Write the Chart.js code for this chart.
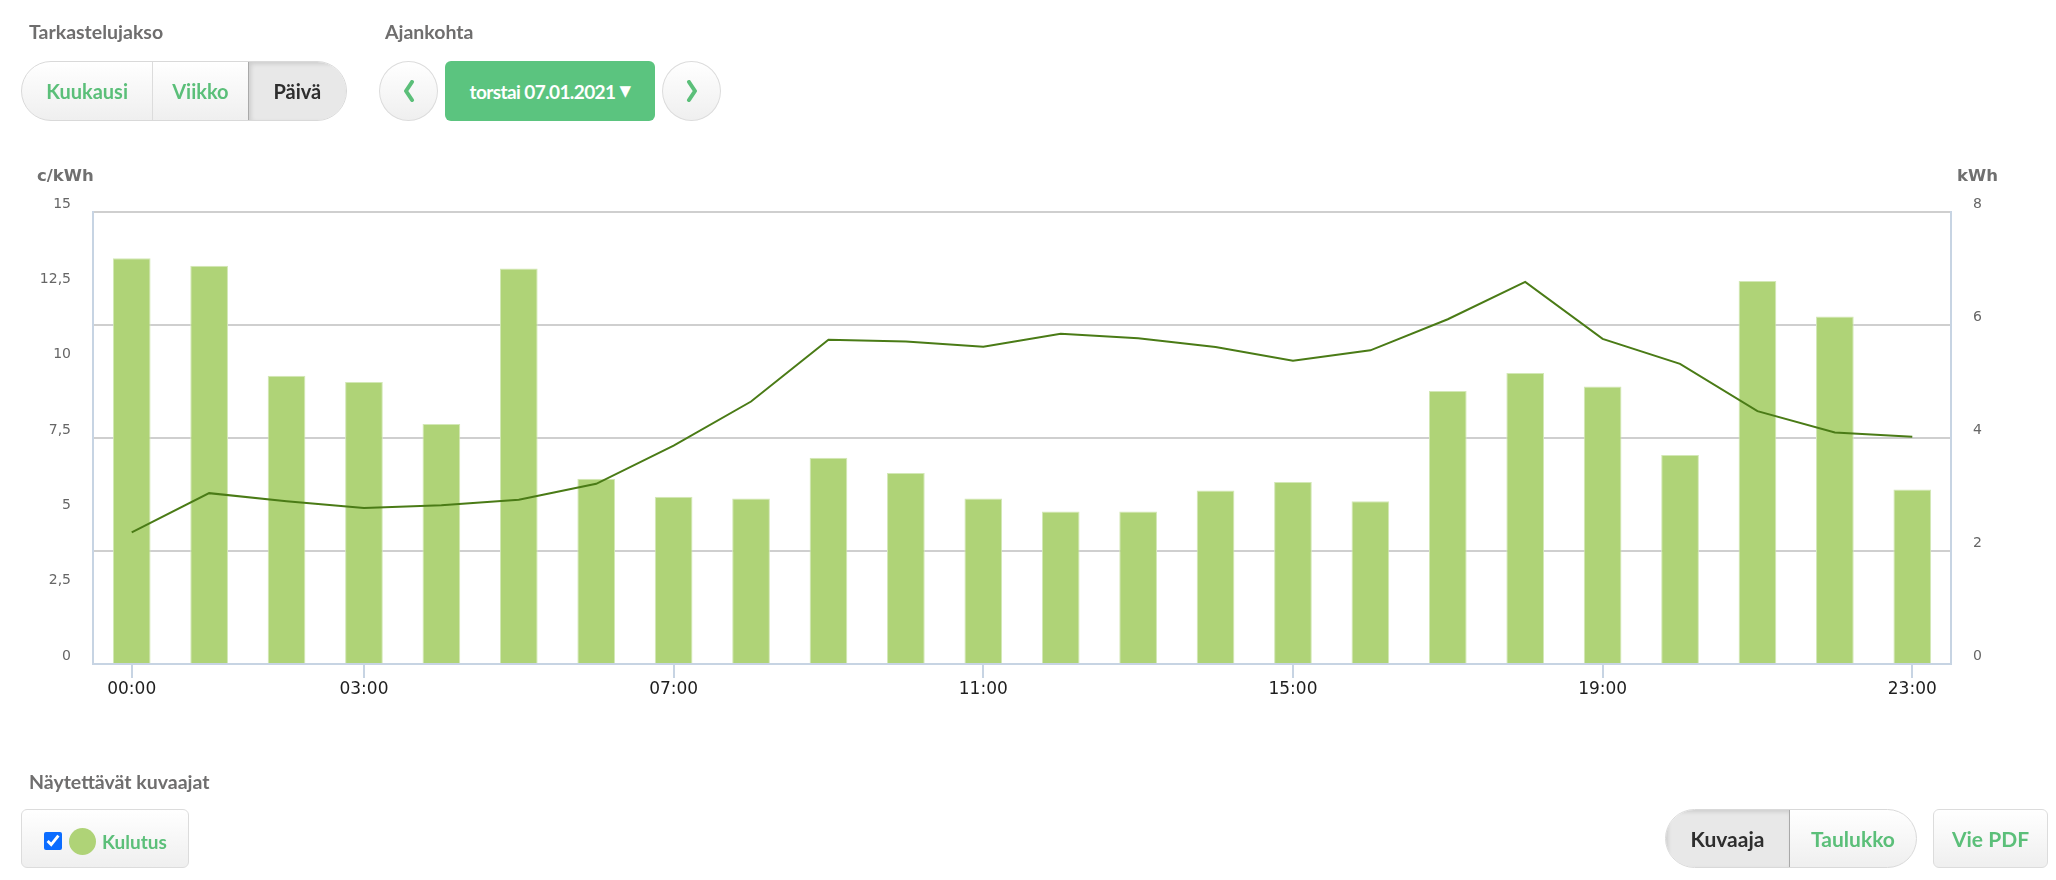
<!DOCTYPE html>
<html>
<head>
<meta charset="utf-8">
<script src="https://cdn.jsdelivr.net/npm/chart.js@4.4.0/dist/chart.umd.min.js"></script>
<style>
  html, body { margin:0; padding:0; background:#fff; }
  body { width:2056px; height:880px; position:relative; overflow:hidden; font-family: Lato, "Open Sans", sans-serif; }
  #c { position:absolute; left:0; top:0; }
  .abs { position:absolute; }
  .h { font-weight:700; font-size:19.5px; color:#6f6e6e; line-height:22px; }
  .grp { display:flex; border:1px solid #d9d9d9; border-radius:30px; overflow:hidden; box-sizing:border-box;
         background:linear-gradient(#ffffff,#efefef); }
  .seg { display:flex; align-items:center; justify-content:center; font-weight:700; font-size:20px; color:#5bbf79; box-sizing:border-box; }
  .seg + .seg { border-left:1px solid #dcdcdc; }
  .seg.sel { background:#e8e8e8; color:#2e2e2e; box-shadow: inset 2px 2px 4px rgba(0,0,0,0.12); border-left:1px solid #a9a9a9; }
  .circ { border:1px solid #dcdcdc; border-radius:50%; box-sizing:border-box; background:linear-gradient(#ffffff,#efefef);
          display:flex; align-items:center; justify-content:center; }
  .box { border:1px solid #dcdcdc; border-radius:6px; box-sizing:border-box; background:linear-gradient(#ffffff,#efefef); }
  .axt { font-family:"DejaVu Sans", Verdana, sans-serif; font-weight:700; font-size:16.5px; color:#707070; line-height:20px; }
  .big { font-size:21px; }
</style>
</head>
<body>
<canvas id="c" width="2056" height="880"></canvas>

<div class="abs h" style="left:29px; top:21px;">Tarkastelujakso</div>
<div class="abs h" style="left:385px; top:21px;">Ajankohta</div>

<div class="abs grp" style="left:21px; top:61px; width:326px; height:60px;">
  <div class="seg" style="width:131px;">Kuukausi</div>
  <div class="seg" style="width:96px;">Viikko</div>
  <div class="seg sel" style="width:99px;">Päivä</div>
</div>

<div class="abs circ" style="left:379px; top:61px; width:59px; height:60px;">
  <svg width="14" height="22" viewBox="0 0 14 22"><polyline points="10,2 4,11 10,20" fill="none" stroke="#5bbf79" stroke-width="4" stroke-linecap="round" stroke-linejoin="round"/></svg>
</div>
<div class="abs" style="left:445px; top:61px; width:210px; height:60px; background:#5bc47f; border-radius:6px; display:flex; align-items:center; justify-content:center; color:#fff; font-weight:700; font-size:19px; letter-spacing:-0.6px;">torstai 07.01.2021&nbsp;<span style="font-family:'DejaVu Sans'; font-size:15px;">▼</span></div>
<div class="abs circ" style="left:662px; top:61px; width:59px; height:60px;">
  <svg width="14" height="22" viewBox="0 0 14 22"><polyline points="4,2 10,11 4,20" fill="none" stroke="#5bbf79" stroke-width="4" stroke-linecap="round" stroke-linejoin="round"/></svg>
</div>

<div class="abs axt" style="left:37px; top:166px;">c/kWh</div>
<div class="abs axt" style="left:1957px; top:166px;">kWh</div>

<div class="abs h" style="left:29px; top:771px;">Näytettävät kuvaajat</div>
<div class="abs box" style="left:21px; top:809px; width:168px; height:59px;"></div>
<input type="checkbox" checked class="abs" style="left:44px; top:832px; width:18px; height:18px; margin:0; accent-color:#0b6cff;">
<div class="abs" style="left:69px; top:828px; width:27px; height:27px; border-radius:50%; background:#afd377;"></div>
<div class="abs" style="left:102px; top:830px; font-weight:700; font-size:19px; color:#5bbf79; line-height:24px;">Kulutus</div>

<div class="abs grp" style="left:1665px; top:809px; width:252px; height:59px;">
  <div class="seg sel big" style="width:125px; border-left:none; box-shadow: inset 2px 2px 4px rgba(0,0,0,0.12); border-right:1px solid #a9a9a9;">Kuvaaja</div>
  <div class="seg big" style="width:127px; border-left:none;">Taulukko</div>
</div>
<div class="abs box seg big" style="left:1933px; top:809px; width:115px; height:59px; display:flex;">Vie PDF</div>

<script>
const hours = ['00:00','01:00','02:00','03:00','04:00','05:00','06:00','07:00','08:00','09:00','10:00','11:00',
               '12:00','13:00','14:00','15:00','16:00','17:00','18:00','19:00','20:00','21:00','22:00','23:00'];
const consumptionKwh = [7.18, 7.05, 5.10, 4.99, 4.25, 7.00, 3.28, 2.96, 2.93, 3.65, 3.38, 2.93,
                        2.70, 2.70, 3.07, 3.22, 2.88, 4.83, 5.15, 4.91, 3.70, 6.78, 6.15, 3.09];
const priceCents = [4.37, 5.67, 5.40, 5.18, 5.27, 5.45, 5.98, 7.25, 8.71, 10.76, 10.70, 10.53,
                    10.96, 10.81, 10.52, 10.06, 10.41, 11.44, 12.68, 10.79, 9.96, 8.39, 7.68, 7.54];
const shownHourLabels = ['00:00','03:00','07:00','11:00','15:00','19:00','23:00'];
const priceTicks = [0, 2.5, 5, 7.5, 10, 12.5, 15];
const kwhTicks = [0, 2, 4, 6, 8];

const W = 2056, H = 880;
const plotLeft = 93, plotRight = 1951, plotTop = 212, plotBottom = 664;
const axisBlue = '#c7d4e3';
const gridGray = '#cfcfcf';

new Chart(document.getElementById('c'), {
  data: {
    labels: hours,
    datasets: [
      { type:'line', label:'Hinta', data: priceCents, yAxisID:'yP', order:0,
        borderColor:'#4a7b16', borderWidth:2, pointRadius:0, tension:0, fill:false },
      { type:'bar', label:'Kulutus', data: consumptionKwh, yAxisID:'yK', order:1,
        backgroundColor:'#afd377', borderColor:'#d3e8b6', borderWidth:1,
        barPercentage:0.487, categoryPercentage:1.0 }
    ]
  },
  options: {
    responsive:false, animation:false, devicePixelRatio:1,
    layout: { padding: { top: plotTop, left:0, right:0, bottom:0 } },
    plugins: { legend:{display:false}, tooltip:{enabled:false} },
    scales: {
      x: {
        type:'category', offset:true,
        afterBuildTicks: s => { s.ticks = s.ticks.filter(t => shownHourLabels.includes(hours[t.value])); },
        afterFit: s => { s.height = H - plotBottom; },
        grid: { offset:false, drawOnChartArea:false, drawTicks:true, tickLength:14, color:axisBlue, lineWidth:2 },
        border: { display:true, color:axisBlue, width:2 },
        ticks: { autoSkip:false, maxRotation:0, padding:1, color:'#1e1e1e',
                 font:{ family:'DejaVu Sans', size:17 } }
      },
      yP: {
        position:'left', min:0, max:15,
        afterBuildTicks: s => { s.ticks = priceTicks.map(v => ({value:v})); },
        afterFit: s => { s.width = plotLeft; },
        grid: { drawOnChartArea:false, drawTicks:false },
        border: { display:true, color:axisBlue, width:2 },
        ticks: { padding:22, labelOffset:-8, color:'#666',
                 font:{ family:'DejaVu Sans', size:14 },
                 callback: v => String(v).replace('.', ',') }
      },
      yK: {
        position:'right', min:0, max:8,
        afterBuildTicks: s => { s.ticks = kwhTicks.map(v => ({value:v})); },
        afterFit: s => { s.width = W - plotRight; },
        grid: { drawOnChartArea:true, drawTicks:false, color:gridGray, lineWidth:2 },
        border: { display:true, color:axisBlue, width:2 },
        ticks: { padding:22, labelOffset:-8, color:'#666',
                 font:{ family:'DejaVu Sans', size:14 } }
      }
    }
  }
});
</script>
</body>
</html>
